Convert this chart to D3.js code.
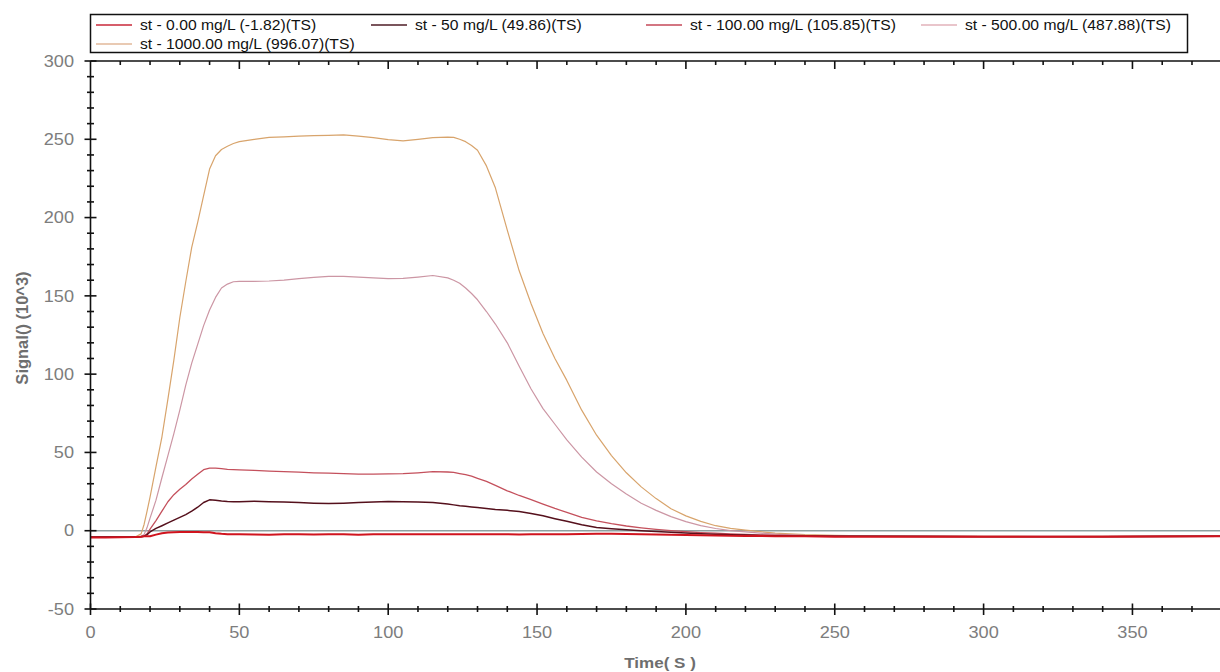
<!DOCTYPE html>
<html>
<head>
<meta charset="utf-8">
<script src="https://cdn.jsdelivr.net/npm/d3@7"></script>
<style>
html,body{margin:0;padding:0;background:#fff;}
svg{display:block;font-family:"Liberation Sans",Arial,sans-serif;}
</style>
</head>
<body>
<svg id="chart" width="1220" height="672"></svg>
<script>
// ---------- DATA ----------
const time = [0,5,10,15,17,18,19,20,22,24,26,28,30,32,34,36,38,40,42,44,46,48,50,55,60,65,70,75,80,85,90,95,100,105,110,115,120,122,124,126,128,130,133,136,140,144,148,152,156,160,165,170,175,180,185,190,195,200,205,210,215,220,225,230,240,250,260,280,300,320,340,360,380];

const s0 = [-4.3,-4.3,-4.2,-4,-3.8,-3.6,-3.6,-3.5,-2.5,-1.6,-1.2,-1,-0.9,-0.9,-0.9,-0.9,-1,-1,-1.6,-2,-2.2,-2.3,-2.3,-2.4,-2.6,-2.3,-2.3,-2.4,-2.3,-2.2,-2.6,-2.3,-2.3,-2.3,-2.3,-2.3,-2.3,-2.3,-2.3,-2.3,-2.3,-2.3,-2.3,-2.3,-2.3,-2.4,-2.3,-2.3,-2.3,-2.3,-2.1,-2,-2,-2.1,-2.2,-2.4,-2.5,-2.7,-2.9,-3,-3.2,-3.3,-3.4,-3.5,-3.6,-3.8,-3.8,-3.9,-3.9,-3.8,-3.8,-3.7,-3.6];
const s50 = [-4,-4,-4,-4,-3.8,-3.5,-2.5,-0.8,1.5,3.2,5,6.8,8.5,10.3,12.5,15,18,19.7,19.5,19,18.7,18.5,18.5,18.8,18.5,18.3,18,17.6,17.4,17.6,18,18.4,18.6,18.5,18.3,18,17,16.5,16,15.6,15.2,14.8,14.2,13.6,13,12.2,11,9.5,7.7,6,3.8,2,1.2,0.6,0,-0.5,-1,-1.5,-2,-2.3,-2.5,-2.8,-3,-3.2,-3.4,-3.5,-3.6,-3.7,-3.8,-3.8,-3.8,-3.7,-3.6];
const s100 = [-4,-4,-4,-4,-3.8,-3.5,-2,1,6.5,12.5,18.5,23,26.5,29.5,33,36,39,40,40,39.6,39.2,39,38.8,38.5,38,37.7,37.4,37,36.8,36.5,36.2,36.2,36.3,36.5,37,37.7,37.5,37.2,36.5,35.8,34.8,33.5,31.5,29,25.5,22.5,19.8,17,14.2,11.7,8.5,6.3,4.5,3,1.8,0.8,0,-0.6,-1.2,-1.6,-2,-2.3,-2.6,-2.8,-3.1,-3.3,-3.4,-3.5,-3.6,-3.6,-3.6,-3.5,-3.5];
const s500 = [-4,-4,-4,-4,-3.5,-2.5,2,8,19.5,34,48,62,77,93,107,119,131,141,149,155,157.5,159,159.3,159.3,159.5,160,161,161.8,162.4,162.5,162,161.5,161,161.2,162,163,161.5,160,158,155,151.5,147.5,140,132,120,105,90.5,78,68,58,47,37.5,30,23.5,17.5,13,9,5.8,3.3,1.4,0,-0.8,-1.5,-2.2,-3,-3.3,-3.4,-3.5,-3.6,-3.6,-3.6,-3.5,-3.5];
const s1000 = [-4,-4,-4.2,-4,-2,4,12.5,21.5,41,60,84,109,136,159,181,197,214,231,239.5,243.5,245.5,247.3,248.5,250,251.2,251.5,252,252.3,252.5,252.8,252,251,249.8,249,250,251,251.4,251.2,250,248.5,246,243,233,219,192,166,145,126,110,96,77,61,48,37,28,20.5,14,9.5,6,3.2,1.5,0.4,-0.6,-1.5,-2.5,-3,-3.2,-3.5,-3.6,-3.7,-3.6,-3.5,-3.4];

const seriesNames = ["st - 0.00 mg/L (-1.82)(TS)","st - 50 mg/L (49.86)(TS)","st - 100.00 mg/L (105.85)(TS)","st - 500.00 mg/L (487.88)(TS)","st - 1000.00 mg/L (996.07)(TS)"];
const seriesColors = ["#d0141e","#55101c","#c4505c","#cc96a4","#d8a46c"];
const legendColors = ["#c8283a","#4e1c26","#c44858","#e2b2ba","#e2b89a"];
const seriesWidths = [2,1.5,1.3,1.2,1.2];
const yTicks = [-50,0,50,100,150,200,250,300];
const xTicks = [0,50,100,150,200,250,300,350];
const xTitle = "Time( S )";
const yTitle = "Signal() (10^3)";

// ---------- CHART ----------
const svg = d3.select("#chart");
const SX = 1.1; // horizontal stretch of the original raster text
const x = d3.scaleLinear().domain([0,380]).range([90.5, 90.5 + 380*2.977]);
const y = d3.scaleLinear().domain([-50,300]).range([609, 61]);
const pLeft = x(0), pRight = 1221, pTop = y(300), pBottom = y(-50);

function stext(g, tx, ty, str, anchor, opts, sx){
  const t = g.append("text")
    .attr("transform", `translate(${tx},${ty}) scale(${sx||SX},1)`)
    .attr("text-anchor", anchor)
    .attr("dominant-baseline","central")
    .text(str);
  for (const k in opts) t.attr(k, opts[k]);
  return t;
}

// zero line
svg.append("line").attr("x1",pLeft).attr("x2",pRight).attr("y1",y(0)).attr("y2",y(0))
  .attr("stroke","#8ea0a0").attr("stroke-width",1.5);

// series
const values = [s0,s50,s100,s500,s1000];
const line = d3.line().x((d,i)=>x(time[i])).y(d=>y(d));
const order = [4,3,2,1,0];
order.forEach(k=>{
  svg.append("path").datum(values[k]).attr("d",line)
    .attr("fill","none").attr("stroke",seriesColors[k]).attr("stroke-width",seriesWidths[k])
    .attr("stroke-linejoin","round");
});

// axes frame
const ax = svg.append("g").attr("stroke","#111").attr("stroke-width",1.6);
ax.append("line").attr("x1",pLeft).attr("x2",pLeft).attr("y1",pTop).attr("y2",pBottom);
ax.append("line").attr("x1",pLeft).attr("x2",pRight).attr("y1",pBottom).attr("y2",pBottom);
ax.append("line").attr("x1",pLeft).attr("x2",pRight).attr("y1",pTop).attr("y2",pTop);

// y minor/major ticks
const yMinor = d3.range(-50,301,10);
ax.selectAll(".ym").data(yMinor).enter().append("line")
  .attr("x1",d=> d%50===0 ? pLeft-6 : pLeft-3.5)
  .attr("x2",d=> d%50===0 ? pLeft+6 : pLeft+3.5)
  .attr("y1",d=>y(d)).attr("y2",d=>y(d));
// x ticks bottom
const xMinor = d3.range(0,381,10);
ax.selectAll(".xm").data(xMinor).enter().append("line")
  .attr("x1",d=>x(d)).attr("x2",d=>x(d))
  .attr("y1",d=> d%50===0 ? pBottom-5.5 : pBottom-3)
  .attr("y2",d=> d%50===0 ? pBottom+6 : pBottom+3);
// x ticks top
ax.selectAll(".xt").data(xMinor.filter(d=>d>0)).enter().append("line")
  .attr("x1",d=>x(d)).attr("x2",d=>x(d))
  .attr("y1",pTop)
  .attr("y2",d=> d%50===0 ? pTop+8 : pTop+4);

// tick labels
const lab = svg.append("g").attr("fill","#7d7d7d").attr("font-size",16.5);
yTicks.forEach(v=> stext(lab, 74, y(v), String(v), "end", {}));
xTicks.forEach(v=> stext(lab, x(v), 632, String(v), "middle", {}));

// axis titles
stext(svg, 660, 662, xTitle, "middle", {"font-weight":"bold","font-size":15.5,"fill":"#6e6e6e"});
svg.append("text").attr("transform",`translate(22,328) rotate(-90)`)
  .attr("text-anchor","middle").attr("dominant-baseline","central")
  .attr("font-weight","bold").attr("font-size",16.5).attr("fill","#6e6e6e").text(yTitle);

// legend
const lg = svg.append("g");
lg.append("rect").attr("x",90.5).attr("y",14.5).attr("width",1097).attr("height",38)
  .attr("fill","#fff").attr("stroke","#111").attr("stroke-width",1.5);
const legPos = [[0,0],[1,0],[2,0],[3,0],[0,1]];
legPos.forEach((p,k)=>{
  const lx = 96 + p[0]*275, ly = 25 + p[1]*19;
  lg.append("line").attr("x1",lx).attr("x2",lx+36).attr("y1",ly).attr("y2",ly)
    .attr("stroke",legendColors[k]).attr("stroke-width",1.5);
  stext(lg, lx+44, ly, seriesNames[k], "start", {"font-size":14,"fill":"#111"}, 1.12);
});
</script>
</body>
</html>
